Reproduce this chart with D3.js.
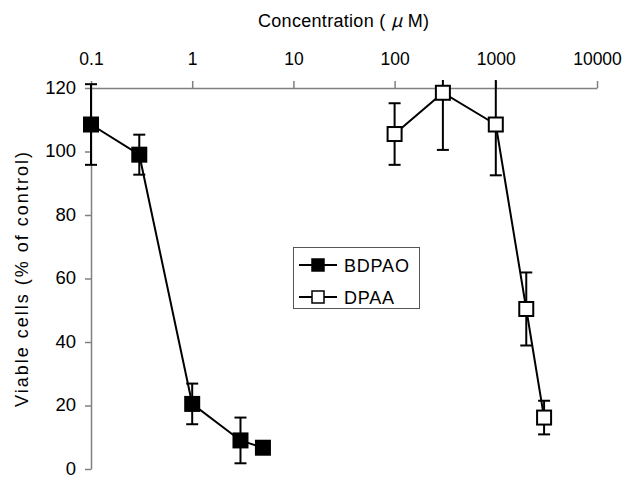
<!DOCTYPE html>
<html>
<head>
<meta charset="utf-8">
<script src="https://cdn.jsdelivr.net/npm/d3@7"></script>
<style>
  body { margin: 0; background: #fff; }
  svg { display: block; }
</style>
</head>
<body>
<svg id="chart" width="626" height="477"></svg>
<script>
// concentrations (uM), means and error bars
const bdpaoConc = [0.1, 0.3, 1, 3, 5];
const bdpaoMean = [108.5, 99, 20.5, 9, 6.7];
const bdpaoErr = [12.7, 6.3, 6.4, 7.2, 0];

const dpaaConc = [100, 300, 1000, 2000, 3000];
const dpaaMean = [105.5, 118.5, 108.5, 50.4, 16.2];
const dpaaErr = [9.7, 18, 16, 11.5, 5.3];

const xTicks = [0.1, 1, 10, 100, 1000, 10000];
const xTickLabels = ['0.1', '1', '10', '100', '1000', '10000'];
const yTicks = [0, 20, 40, 60, 80, 100, 120];

const plotLeft = 91, plotRight = 597, plotTop = 88, plotBottom = 469;
const boxSize = 14;
const capHalf = 6;
const sans = '"Liberation Sans", Arial, sans-serif';

const svg = d3.select('#chart');

const x = d3.scaleLog().domain([0.1, 10000]).range([plotLeft, plotRight]);
const y = d3.scaleLinear().domain([0, 120]).range([plotBottom, plotTop]);

// top axis
const xAxis = svg.append('g')
    .attr('transform', 'translate(0,' + plotTop + ')')
    .call(d3.axisTop(x).tickValues(xTicks)
        .tickFormat((d, i) => xTickLabels[i])
        .tickSize(7).tickSizeOuter(0).tickPadding(16));
xAxis.select('.domain').attr('stroke', '#808080').attr('stroke-width', 1.5);
xAxis.selectAll('.tick line').attr('stroke', '#808080').attr('stroke-width', 1.5);
xAxis.selectAll('.tick text')
    .attr('fill', '#000')
    .style('font-family', sans)
    .style('font-size', '17.5px');

// left axis
const yAxis = svg.append('g')
    .attr('transform', 'translate(' + plotLeft + ',0)')
    .call(d3.axisLeft(y).tickValues(yTicks)
        .tickSize(6).tickSizeOuter(0).tickPadding(9));
yAxis.select('.domain').attr('stroke', '#808080').attr('stroke-width', 1.5);
yAxis.selectAll('.tick line').attr('stroke', '#808080').attr('stroke-width', 1.5);
yAxis.selectAll('.tick text')
    .attr('fill', '#000')
    .attr('dy', '0.27em')
    .style('font-family', sans)
    .style('font-size', '18.5px');

// titles
const title = svg.append('text')
    .attr('x', 258).attr('y', 27)
    .style('font-family', sans)
    .style('font-size', '18px')
    .style('letter-spacing', '0.3px');
title.append('tspan').text('Concentration ( ');
title.append('tspan')
    .style('font-family', '"Noto Sans CJK JP", sans-serif')
    .style('font-style', 'italic')
    .text('μ');
title.append('tspan').text(' M)');

svg.append('text')
    .attr('transform', 'translate(28,' + ((plotTop + plotBottom) / 2) + ') rotate(-90)')
    .attr('text-anchor', 'middle')
    .style('font-family', sans)
    .style('font-size', '18px')
    .style('letter-spacing', '2px')
    .text('Viable cells (% of control)');

// error bars get clipped just above the axis line
svg.append('clipPath').attr('id', 'plotclip')
    .append('rect')
    .attr('x', 0).attr('y', 80).attr('width', 626).attr('height', 400);

const series = [
    { conc: bdpaoConc, mean: bdpaoMean, err: bdpaoErr, fill: '#000' },
    { conc: dpaaConc, mean: dpaaMean, err: dpaaErr, fill: '#fff' }
];

const line = d3.line()
    .x(d => x(d[0]))
    .y(d => y(d[1]));

series.forEach(s => {
    const pts = s.conc.map((c, i) => [c, s.mean[i], s.err[i]]);
    const g = svg.append('g').attr('clip-path', 'url(#plotclip)');

    const bars = g.selectAll('g.err')
        .data(pts.filter(d => d[2] > 0))
        .join('g').attr('class', 'err')
        .attr('stroke', '#000').attr('stroke-width', 2);
    bars.append('line')
        .attr('x1', d => x(d[0])).attr('x2', d => x(d[0]))
        .attr('y1', d => y(d[1] - d[2])).attr('y2', d => y(d[1] + d[2]));
    bars.append('line')
        .attr('x1', d => x(d[0]) - capHalf).attr('x2', d => x(d[0]) + capHalf)
        .attr('y1', d => y(d[1] - d[2])).attr('y2', d => y(d[1] - d[2]));
    bars.append('line')
        .attr('x1', d => x(d[0]) - capHalf).attr('x2', d => x(d[0]) + capHalf)
        .attr('y1', d => y(d[1] + d[2])).attr('y2', d => y(d[1] + d[2]));

    g.append('path')
        .datum(pts)
        .attr('d', line)
        .attr('fill', 'none')
        .attr('stroke', '#000')
        .attr('stroke-width', 2);

    g.selectAll('rect.mk')
        .data(pts)
        .join('rect').attr('class', 'mk')
        .attr('x', d => x(d[0]) - boxSize / 2)
        .attr('y', d => y(d[1]) - boxSize / 2)
        .attr('width', boxSize).attr('height', boxSize)
        .attr('fill', s.fill)
        .attr('stroke', '#000').attr('stroke-width', 2);
});

// legend
const legend = svg.append('g');
legend.append('rect')
    .attr('x', 293.5).attr('y', 247.5).attr('width', 126).attr('height', 61)
    .attr('fill', '#fff').attr('stroke', '#555').attr('stroke-width', 1);
const legendItems = [
    { name: 'BDPAO', fill: '#000', cy: 265 },
    { name: 'DPAA', fill: '#fff', cy: 297 }
];
legendItems.forEach(it => {
    legend.append('line')
        .attr('x1', 299).attr('x2', 337).attr('y1', it.cy).attr('y2', it.cy)
        .attr('stroke', '#000').attr('stroke-width', 2);
    legend.append('rect')
        .attr('x', 318 - 6).attr('y', it.cy - 6).attr('width', 12).attr('height', 12)
        .attr('fill', it.fill).attr('stroke', '#000').attr('stroke-width', 1.5);
    legend.append('text')
        .attr('x', 344).attr('y', it.cy + 6.5)
        .style('font-family', sans)
        .style('font-size', '18px')
        .style('letter-spacing', '0.8px')
        .text(it.name);
});
</script>
</body>
</html>
